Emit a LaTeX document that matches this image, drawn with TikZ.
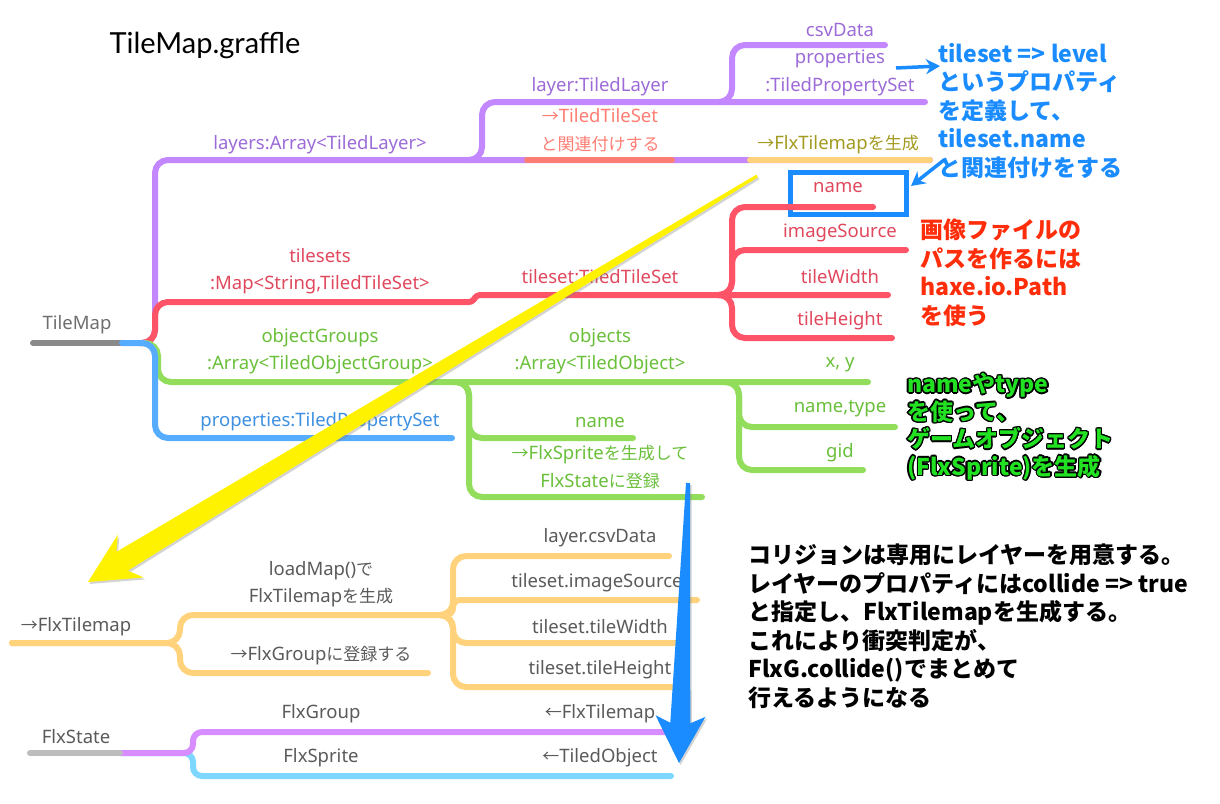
\documentclass[tikz,border=0pt]{standalone}
\usepackage{fontspec}
\usepackage{xcolor}
\usepackage{tikz}
\usepackage[copies]{contour}
\usetikzlibrary{arrows.meta,calc,positioning,shadows}
\setmainfont{Noto Sans CJK JP}
\newfontfamily\jp{Noto Sans CJK JP}
\newfontfamily\latinfont{Noto Sans}
\newfontfamily\titlefont{Lato}
\newcommand\jpt[1]{{\jp\fontsize{17}{27.5}\selectfont #1}}
\definecolor{lavender}{HTML}{C387FF}
\definecolor{grape}{HTML}{9C6BD8}
\definecolor{rose}{HTML}{FF5468}
\definecolor{rosetext}{HTML}{E0485D}
\definecolor{salmon}{HTML}{FF7D73}
\definecolor{gold}{HTML}{FFD27B}
\definecolor{olive}{HTML}{A39A20}
\definecolor{lime}{HTML}{92DE5C}
\definecolor{limetext}{HTML}{6ABF3A}
\definecolor{sky}{HTML}{56ACFF}
\definecolor{skytext}{HTML}{3E90E2}
\definecolor{ash}{HTML}{8A8A8A}
\definecolor{ashtext}{HTML}{6E6E6E}
\definecolor{slate}{HTML}{5A5A5A}
\definecolor{orchid}{HTML}{D78CFF}
\definecolor{aqua}{HTML}{7DD7FF}
\definecolor{silver}{HTML}{BDBDBD}
\definecolor{notice}{HTML}{1A8CFF}
\definecolor{alert}{HTML}{FF2D0A}
\definecolor{neon}{HTML}{22E022}
\definecolor{flash}{HTML}{FFF200}
\contourlength{1.3pt}

\begin{document}
\begin{tikzpicture}[x=1pt,y=-1pt,
    lbl/.style={font=\latinfont\fontsize{18.5}{21}\selectfont, inner sep=0pt},
    lbltwo/.style={lbl, align=center, font=\latinfont\fontsize{18.5}{27.5}\selectfont},
    note/.style={font=\fontsize{23}{28.5}\selectfont\bfseries, align=left,
                 anchor=north west, inner sep=0pt},
    branch/.style={line width=6pt, line cap=round, rounded corners=13pt},
    bigarrow/.style={drop shadow={opacity=.35, shadow xshift=1.5pt, shadow yshift=-2pt}},
]
\useasboundingbox (0,0) rectangle (1220,803);

\node[font=\titlefont\fontsize{29}{32}\selectfont, inner sep=0pt] (title) at (205,45) {TileMap.graffle};

\node[draw=notice, line width=5pt, minimum width=116pt, minimum height=42pt] (nameBox) at (848,193) {};

\coordinate (tmStart) at (33,343);
\coordinate (tmEnd) at (122,343);
\coordinate (tm) at (140,343);
\coordinate (layersJ) at (468,160);
\coordinate (layerEnd) at (930,160);
\coordinate (layerJ) at (718,102);
\coordinate (propsEnd) at (925,102);
\coordinate (csvEnd) at (885,45);
\coordinate (linkStart) at (527,160);
\coordinate (linkEnd) at (672,160);
\coordinate (makeStart) at (750,160);
\coordinate (tsStep) at (468,302);
\coordinate (tsJ) at (718,295);
\coordinate (widthEnd) at (888,295);
\coordinate (nameEnd) at (873,207);
\coordinate (srcEnd) at (906,250);
\coordinate (heightEnd) at (892,338);
\coordinate (ogJ) at (455,382);
\coordinate (objJ) at (725,382);
\coordinate (xyEnd) at (868,382);
\coordinate (typeEnd) at (895,427);
\coordinate (gidEnd) at (863,470);
\coordinate (onameEnd) at (633,438);
\coordinate (regEnd) at (702,497);
\coordinate (propEnd) at (452,438);

\draw[branch,ash] (tmStart) -- (tmEnd);
\draw[branch,lavender] (tm) -- ++(15,0) |- (layerEnd);
\draw[branch,lavender] (layersJ) -- ++(14,0) |- (propsEnd);
\draw[branch,lavender] (layerJ) -- ++(14,0) |- (csvEnd);
\draw[branch,salmon] (linkStart) -- (linkEnd);
\draw[branch,gold] (makeStart) -- (layerEnd);
\draw[branch,rose] (tm) -- ++(15,0) |- (tsStep);
\draw[branch,rose,rounded corners=3pt] (tsStep) -- ++(4,0) -- ++(5,-7) -- (widthEnd);
\draw[branch,rose] (tsJ) -- ++(14,0) |- (nameEnd);
\draw[branch,rose] (tsJ) -- ++(14,0) |- (srcEnd);
\draw[branch,rose] (tsJ) -- ++(14,0) |- (heightEnd);
\draw[branch,lime] (tm) -- ++(18,0) |- (xyEnd);
\draw[branch,lime] (ogJ) -- ++(14,0) |- (onameEnd);
\draw[branch,lime] (ogJ) -- ++(14,0) |- (regEnd);
\draw[branch,lime] (objJ) -- ++(14,0) |- (typeEnd);
\draw[branch,lime] (objJ) -- ++(14,0) |- (gidEnd);
\draw[branch,sky] (tmEnd) -- ++(33,0) |- (propEnd);

\node[lbl,text=ashtext] (tileMap) at (77,325) {TileMap};
\node[lbl,text=grape] (layers) at (320,145) {layers:Array<TiledLayer>};
\node[lbl,text=grape] (layer) at (600,87) {layer:TiledLayer};
\node[lbl,text=grape] (csvData) at (840,30) {csvData};
\node[lbltwo,text=grape] (layerProps) at (840,73) {properties\\:TiledPropertySet};
\node[lbltwo,text=salmon] (tileLink) at (600,130) {\jpt{→}TiledTileSet\\\jpt{と関連付けする}};
\node[lbl,text=olive] (makeTilemap) at (838,145) {\jpt{→}FlxTilemap\jpt{を生成}};
\node[lbl,text=rosetext] (tsName) at (838,188) {name};
\node[lbl,text=rosetext] (imageSource) at (840,233) {imageSource};
\node[lbl,text=rosetext] (tileWidth) at (840,277) {tileWidth};
\node[lbl,text=rosetext] (tileHeight) at (840,321) {tileHeight};
\node[lbltwo,text=rosetext] (tilesets) at (320,271) {tilesets\\:Map<String,TiledTileSet>};
\node[lbl,text=rosetext] (tileset) at (600,277) {tileset:TiledTileSet};
\node[lbltwo,text=limetext] (objectGroups) at (320,351) {objectGroups\\:Array<TiledObjectGroup>};
\node[lbltwo,text=limetext] (objects) at (600,351) {objects\\:Array<TiledObject>};
\node[lbl,text=limetext] (xy) at (840,365) {x, y};
\node[lbl,text=limetext] (nameType) at (840,409) {name,type};
\node[lbl,text=limetext] (gid) at (840,453) {gid};
\node[lbl,text=limetext] (objName) at (600,423) {name};
\node[lbltwo,text=limetext] (makeSprite) at (600,467) {\jpt{→}FlxSprite\jpt{を生成して}\\FlxState\jpt{に登録}};
\node[lbl,text=skytext] (mapProps) at (320,422) {properties:TiledPropertySet};

\coordinate (ftStart) at (12,643);
\coordinate (loadJ) at (440,615);
\coordinate (groupEnd) at (428,673);
\coordinate (csvEnd2) at (669,556);
\coordinate (srcEnd2) at (697,600);
\coordinate (widthEnd2) at (678,643);
\coordinate (heightEnd2) at (676,687);
\coordinate (fsStart) at (30,753);
\coordinate (fsMid) at (120,753);
\coordinate (grpEnd) at (669,732);
\coordinate (sprEnd) at (671,776);

\draw[branch,gold] (ftStart) -- ++(168,0) |- (loadJ);
\draw[branch,gold] (ftStart) -- ++(168,0) |- (groupEnd);
\draw[branch,gold] (loadJ) -- ++(13,0) |- (csvEnd2);
\draw[branch,gold,rounded corners=7pt] (loadJ) -- ++(13,0) |- (srcEnd2);
\draw[branch,gold] (loadJ) -- ++(13,0) |- (widthEnd2);
\draw[branch,gold] (loadJ) -- ++(13,0) |- (heightEnd2);
\draw[branch,aqua,rounded corners=9pt] (fsMid) -- ++(73,0) |- (sprEnd);
\draw[branch,orchid,rounded corners=9pt] (fsMid) -- ++(73,0) |- (grpEnd);
\draw[branch,silver] (fsStart) -- (fsMid);

\node[lbl,text=slate] (toTilemap) at (76,627) {\jpt{→}FlxTilemap};
\node[lbltwo,text=slate] (loadMap) at (321,584) {loadMap()\jpt{で}\\FlxTilemap\jpt{を生成}};
\node[lbl,text=slate] (toGroup) at (321,656) {\jpt{→}FlxGroup\jpt{に登録する}};
\node[lbl,text=slate] (layerCsv) at (600,538) {layer.csvData};
\node[lbl,text=slate] (tsSource) at (597,583) {tileset.imageSource};
\node[lbl,text=slate] (tsWidth) at (600,627) {tileset.tileWidth};
\node[lbl,text=slate] (tsHeight) at (600,670) {tileset.tileHeight};
\node[lbl,text=slate] (flxState) at (76,737) {FlxState};
\node[lbl,text=slate] (flxGroup) at (321,714) {FlxGroup};
\node[lbl,text=slate] (fromTilemap) at (600,714) {\jpt{←}FlxTilemap};
\node[lbl,text=slate] (flxSprite) at (321,758) {FlxSprite};
\node[lbl,text=slate] (fromObject) at (600,758) {\jpt{←}TiledObject};

\coordinate (ytail) at (757,176);
\coordinate (ytip) at (88,582);
\coordinate (yh) at ($(ytip)!40pt!(ytail)$);
\coordinate (yw) at ($(ytip)!50pt!(ytail)$);
\fill[flash,bigarrow] ($(ytail)!1.5pt!90:(ytip)$) -- ($(yh)!11pt!-90:(ytail)$)
  -- ($(yw)!25pt!-90:(ytail)$) -- (ytip) -- ($(yw)!25pt!90:(ytail)$)
  -- ($(yh)!11pt!90:(ytail)$) -- ($(ytail)!1.5pt!-90:(ytip)$) -- cycle;

\coordinate (btail) at (688,483);
\coordinate (btip) at (679,763);
\coordinate (bh) at ($(btip)!40pt!(btail)$);
\coordinate (bw) at ($(btip)!47pt!(btail)$);
\fill[notice,bigarrow] ($(btail)!2pt!90:(btip)$) -- ($(bh)!10pt!-90:(btail)$)
  -- ($(bw)!25pt!-90:(btail)$) -- (btip) -- ($(bw)!25pt!90:(btail)$)
  -- ($(bh)!10pt!90:(btail)$) -- ($(btail)!2pt!-90:(btip)$) -- cycle;

\node[note,text=notice] (blueNote) at (938,43)
  {tileset => level\\というプロパティ\\を定義して、\\tileset.name\\と関連付けをする};
\node[note,text=alert] (redNote) at (920,219)
  {画像ファイルの\\パスを作るには\\haxe.io.Path\\を使う};
\node[note,text=neon,font=\fontsize{23}{27.5}\selectfont\bfseries] (greenNote) at (907,373)
  {\contour{black}{nameやtype}\\\contour{black}{を使って、}\\\contour{black}{ゲームオブジェクト}\\\contour{black}{(FlxSprite)を生成}};
\node[note,text=black] (blackNote) at (748,544)
  {コリジョンは専用にレイヤーを用意する。\\レイヤーのプロパティにはcollide => true\\と指定し、FlxTilemapを生成する。\\これにより衝突判定が、\\FlxG.collide()でまとめて\\行えるようになる};

\coordinate (propsTail) at (896,68);
\coordinate (propsTip) at (940,66);
\coordinate (boxTail) at (944,160);
\coordinate (boxTip) at (911,186);
\draw[notice,line width=3.5pt,-{Stealth[length=14pt,width=15pt]}] (propsTail) -- (propsTip);
\draw[notice,line width=3.5pt,-{Stealth[length=14pt,width=15pt]}] (boxTail) -- (boxTip);

\end{tikzpicture}
\end{document}
